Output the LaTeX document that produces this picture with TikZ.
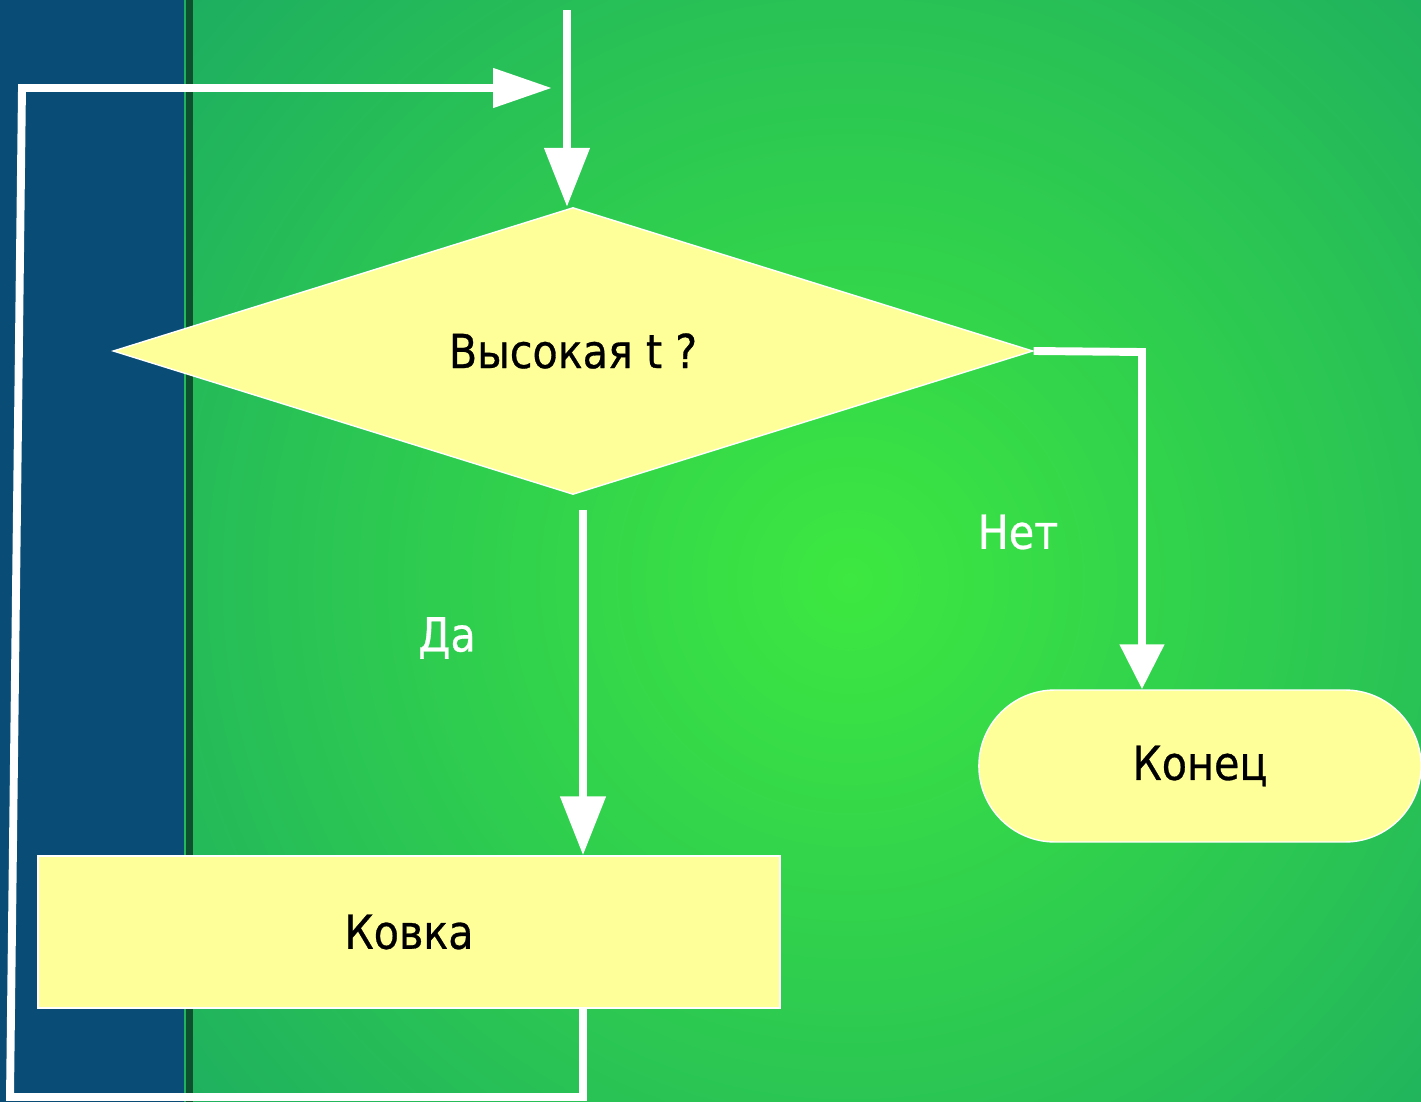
\documentclass[tikz,border=0pt]{standalone}
\usepackage{fontspec}
\setmainfont{DejaVu Sans}[FakeStretch=0.88, FakeBold=0.6]
\usetikzlibrary{shapes.geometric, shapes.misc, arrows.meta, positioning, calc}

\definecolor{bgcenter}{RGB}{61,232,64}
\definecolor{bgedge}{RGB}{20,156,106}
\definecolor{stripblue}{RGB}{9,76,118}
\definecolor{stripline}{RGB}{13,80,48}
\definecolor{boxyellow}{RGB}{255,255,153}

\begin{document}
\begin{tikzpicture}[
    x=0.02cm, y=-0.02cm,
    >={Triangle[length=1.18cm, width=0.88cm]},
    font=\fontsize{26.7}{32}\selectfont,
    block/.style={rectangle, draw=white, line width=0.8pt, fill=boxyellow, text=black, minimum width=14.84cm, minimum height=3.04cm},
    decision/.style={diamond, aspect=3.2, draw=white, line width=0.8pt, fill=boxyellow, text=black, inner sep=0pt, minimum width=18.4cm, minimum height=5.74cm},
    term/.style={rounded rectangle, draw=white, line width=0.8pt, fill=boxyellow, text=black, minimum width=9.08cm, minimum height=3.04cm},
    flow/.style={->, white, line width=4.5pt},
    tag/.style={text=white}
]
\useasboundingbox (0,0) rectangle (1421,1102);

% Background
\begin{scope}
\clip (0,0) rectangle (1421,1102);
\shade[inner color=bgcenter, outer color=bgedge] (850,580) circle (1150);
\end{scope}
\fill[stripblue] (0,0) rectangle (184,1102);
\fill[stripline] (186,0) rectangle (193,1102);

% Blocks
\node (Test) at (573, 351) [decision] {Высокая t ?};
\node (Forge) at (409, 932) [block] {Ковка};
\node (Stop) at (1200, 766) [term] {Конец};

% Entry
\coordinate (Entry) at (567, 10);
\draw[flow] (Entry) -- (Entry |- Test.north);

% Yes branch
\coordinate (Yes) at (583, 510);
\draw[flow] (Yes) -- (Yes |- Forge.north);
\node (YesTag) at (447, 638) [tag] {Да};

% No branch
\coordinate (NoCorner) at (1142, 352);
\draw[flow, >={Triangle[length=0.9cm, width=0.86cm]}] (Test.east) -- (NoCorner) -- (NoCorner |- Stop.north);
\node (NoTag) at (1018, 532) [tag] {Нет};

% Loop back
\coordinate (BackA) at (583, 1097);
\coordinate (BackB) at (10, 1097);
\coordinate (BackC) at (22, 88);
\coordinate (BackD) at (552, 88);
\draw[flow, >={Triangle[length=1.18cm, width=0.76cm]}] (BackA |- Forge.south) -- (BackA) -- (BackB) -- (BackC) -- (BackD);
\end{tikzpicture}
\end{document}
